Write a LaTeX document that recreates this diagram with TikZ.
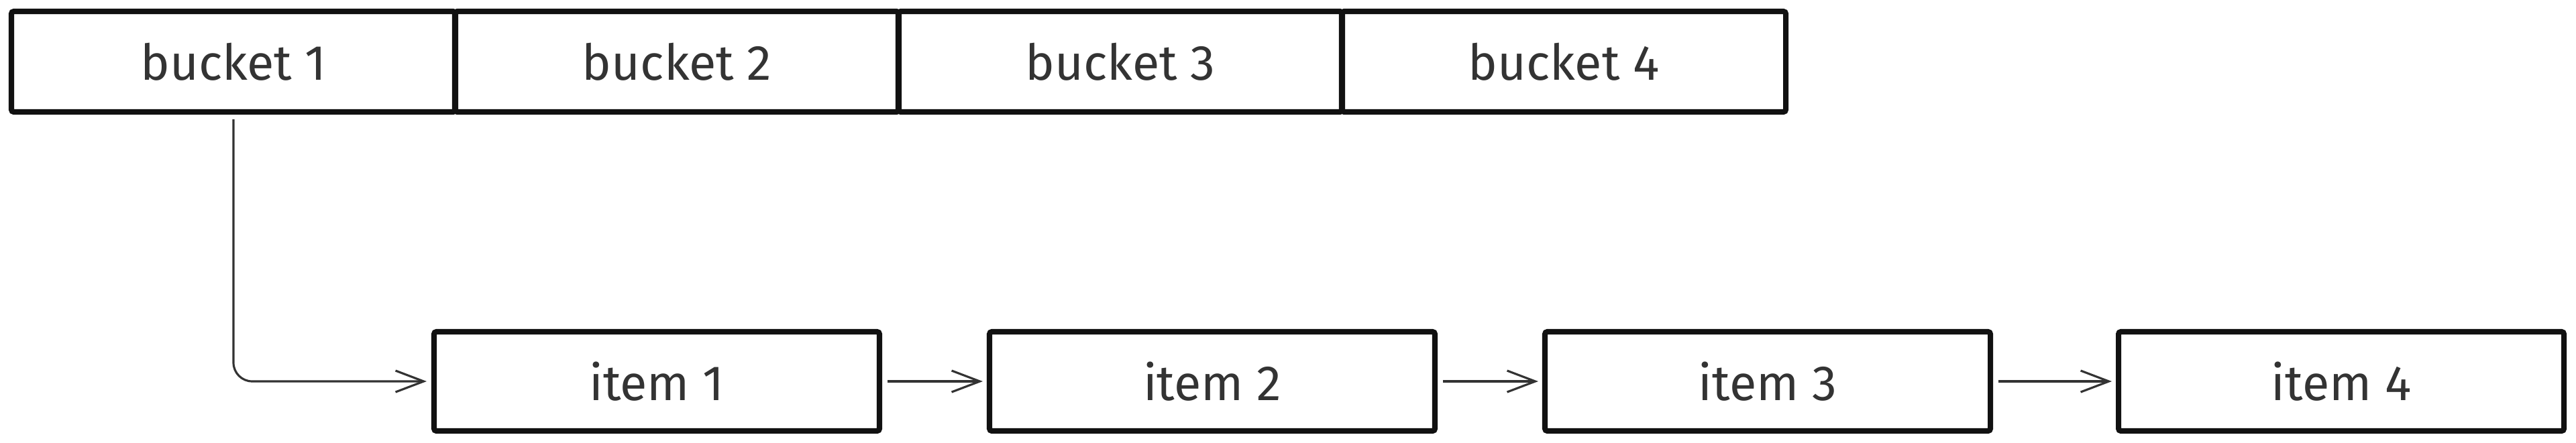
\documentclass[tikz,border=0pt]{standalone}
\usepackage{fontspec}
\setmainfont{Fira Sans}
\usepackage{xcolor}
\definecolor{Stroke}{HTML}{111111}
\definecolor{Ink}{HTML}{333333}
\usetikzlibrary{arrows.meta,positioning}
\begin{document}
\begin{tikzpicture}[every node/.style={font=\fontsize{21}{25}\selectfont,text=Ink},cell/.style={draw=Stroke,line width=2.3pt,minimum width=6.62cm,minimum height=1.5cm,inner sep=0pt,outer sep=0pt,rounded corners=1pt},itemcell/.style={cell,minimum height=1.48cm,minimum width=6.64cm},link/.style={-{Straight Barb[length=0.42cm,width=0.32cm]},draw=Ink,line width=0.9pt,rounded corners=0.28cm}]
\useasboundingbox (0,0) rectangle (38.4,6.6);
\foreach \i/\x in {1/3.48,2/10.09,3/16.70,4/23.31}{\node[cell] (b\i) at (\x,5.68) {bucket \i};}
\node[itemcell] (i1) at (9.79,0.91) {item 1};
\node[itemcell,right=1.64cm of i1] (i2) {item 2};
\node[itemcell,right=1.64cm of i2] (i3) {item 3};
\node[itemcell,right=1.91cm of i3] (i4) {item 4};
\draw[link,shorten <=0.11cm,shorten >=0.11cm] (b1.south) |- (i1.west);
\draw[link,shorten <=0.12cm,shorten >=0.1cm] (i1) -- (i2);
\draw[link,shorten <=0.12cm,shorten >=0.1cm] (i2) -- (i3);
\draw[link,shorten <=0.12cm,shorten >=0.1cm] (i3) -- (i4);
\end{tikzpicture}
\end{document}
